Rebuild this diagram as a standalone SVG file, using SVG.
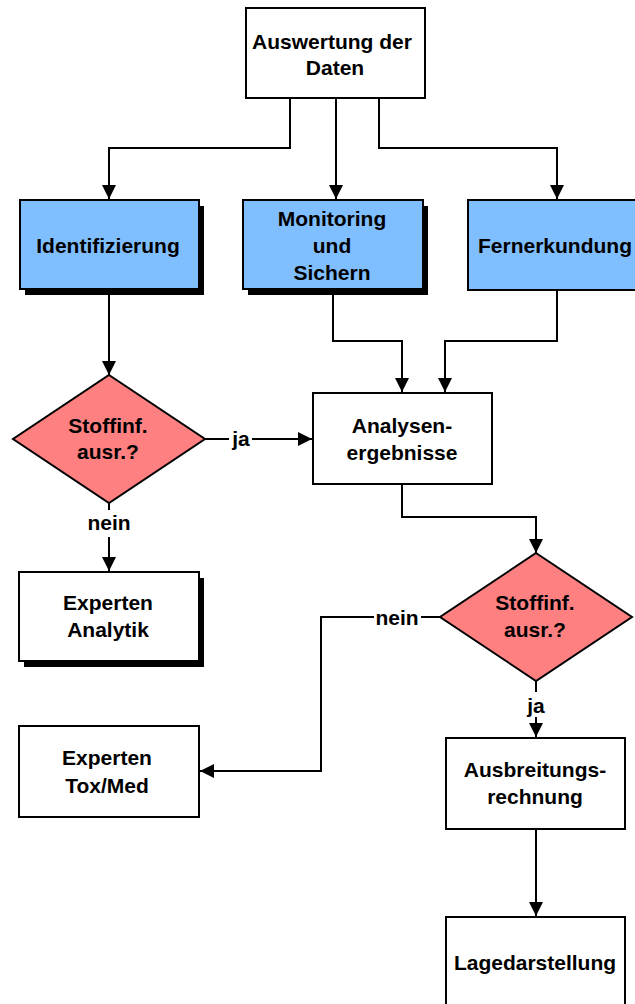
<svg xmlns="http://www.w3.org/2000/svg" width="635" height="1004" viewBox="0 0 635 1004">
  <style>
    .box { fill: #ffffff; stroke: #000000; stroke-width: 2; }
    .blue { fill: #80bfff; stroke: #000000; stroke-width: 2; }
    .shadow { fill: #000000; stroke: none; }
    .dia { fill: #ff8080; stroke: #000000; stroke-width: 2; stroke-linejoin: miter; }
    .lbl { font-family: "Liberation Sans", Arial, sans-serif; font-weight: bold; font-size: 21px; fill: #000000; text-anchor: middle; }
    .wire { fill: none; stroke: #000000; stroke-width: 2; }
  </style>
  <defs>
    <marker id="arrow" markerUnits="userSpaceOnUse" markerWidth="14" markerHeight="14" viewBox="0 0 14 14" refX="14" refY="7" orient="auto">
      <path d="M0,0 L14,7 L0,14 Z" fill="#000000"/>
    </marker>
  </defs>
  <rect width="635" height="1004" fill="#ffffff"/>

  <!-- connectors -->
  <g id="connectors">
    <path class="wire" d="M290 98 V148 H109 V199" marker-end="url(#arrow)"/>
    <path class="wire" d="M336 98 V199" marker-end="url(#arrow)"/>
    <path class="wire" d="M379 98 V148 H557 V199" marker-end="url(#arrow)"/>
    <path class="wire" d="M109 289 V375" marker-end="url(#arrow)"/>
    <path class="wire" d="M333 289 V341 H402 V392" marker-end="url(#arrow)"/>
    <path class="wire" d="M557 290 V341 H445 V392" marker-end="url(#arrow)"/>
    <!-- ja: decision 1 -> Analysenergebnisse -->
    <path class="wire" d="M205 439 H229"/>
    <path class="wire" d="M252 439 H312" marker-end="url(#arrow)"/>
    <!-- nein: decision 1 -> Experten Analytik -->
    <path class="wire" d="M109 503 V510"/>
    <path class="wire" d="M109 537 V571" marker-end="url(#arrow)"/>
    <path class="wire" d="M402 484 V517 H536 V553" marker-end="url(#arrow)"/>
    <!-- nein: decision 2 -> Experten Tox/Med -->
    <path class="wire" d="M440 617 H421"/>
    <path class="wire" d="M374 617 H321 V771 H200" marker-end="url(#arrow)"/>
    <!-- ja: decision 2 -> Ausbreitungsrechnung -->
    <path class="wire" d="M536 681 V692"/>
    <path class="wire" d="M536 717 V737" marker-end="url(#arrow)"/>
    <path class="wire" d="M536 829 V916" marker-end="url(#arrow)"/>
    <text class="lbl" x="241" y="446">ja</text>
    <text class="lbl" x="109" y="530">nein</text>
    <text class="lbl" x="397" y="625">nein</text>
    <text class="lbl" x="536" y="713">ja</text>
  </g>

  <g id="auswertung">
    <rect class="box" x="246" y="8" width="179" height="90"/>
    <text class="lbl" x="332" y="49">Auswertung der</text>
    <text class="lbl" x="335" y="75">Daten</text>
  </g>

  <g id="identifizierung">
    <rect class="shadow" x="25" y="206" width="179" height="89"/>
    <rect class="blue" x="20" y="200" width="179" height="89"/>
    <text class="lbl" x="108" y="253">Identifizierung</text>
  </g>

  <g id="monitoring">
    <rect class="shadow" x="248" y="206" width="180" height="89"/>
    <rect class="blue" x="243" y="200" width="180" height="89"/>
    <text class="lbl" x="332" y="226">Monitoring</text>
    <text class="lbl" x="332" y="253">und</text>
    <text class="lbl" x="332" y="280">Sichern</text>
  </g>

  <g id="fernerkundung">
    <rect class="blue" x="468" y="200" width="178" height="90"/>
    <text class="lbl" x="555" y="253">Fernerkundung</text>
  </g>

  <g id="entscheidung1">
    <polygon class="dia" points="109,375 205,439 109,503 13,439"/>
    <text class="lbl" x="108" y="433">Stoffinf.</text>
    <text class="lbl" x="108" y="459">ausr.?</text>
  </g>

  <g id="analysenergebnisse">
    <rect class="box" x="313" y="393" width="179" height="91"/>
    <text class="lbl" x="402" y="433">Analysen-</text>
    <text class="lbl" x="402" y="460">ergebnisse</text>
  </g>

  <g id="experten-analytik">
    <rect class="shadow" x="24" y="578" width="180" height="89"/>
    <rect class="box" x="19" y="572" width="180" height="89"/>
    <text class="lbl" x="108" y="610">Experten</text>
    <text class="lbl" x="108" y="637">Analytik</text>
  </g>

  <g id="entscheidung2">
    <polygon class="dia" points="536,553 632,617 536,681 440,617"/>
    <text class="lbl" x="535" y="610">Stoffinf.</text>
    <text class="lbl" x="535" y="637">ausr.?</text>
  </g>

  <g id="experten-toxmed">
    <rect class="box" x="19" y="726" width="180" height="91"/>
    <text class="lbl" x="107" y="765">Experten</text>
    <text class="lbl" x="107" y="793">Tox/Med</text>
  </g>

  <g id="ausbreitungsrechnung">
    <rect class="box" x="446" y="738" width="179" height="91"/>
    <text class="lbl" x="535" y="777">Ausbreitungs-</text>
    <text class="lbl" x="535" y="804">rechnung</text>
  </g>

  <g id="lagedarstellung">
    <rect class="box" x="446" y="917" width="179" height="91"/>
    <text class="lbl" x="535" y="970">Lagedarstellung</text>
  </g>
</svg>
